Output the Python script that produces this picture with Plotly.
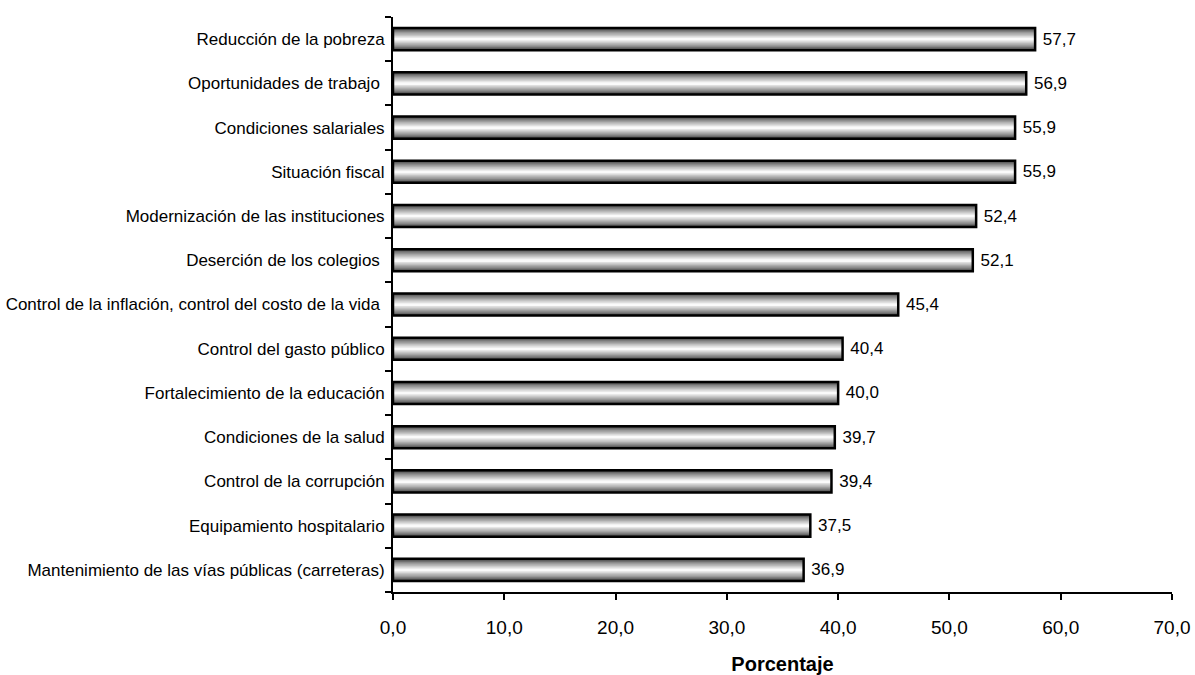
import plotly.graph_objects as go

categories = [
    "Reducción de la pobreza",
    "Oportunidades de trabajo ",
    "Condiciones salariales",
    "Situación fiscal",
    "Modernización de las instituciones",
    "Deserción de los colegios ",
    "Control de la inflación, control del costo de la vida ",
    "Control del gasto público",
    "Fortalecimiento de la educación",
    "Condiciones de la salud",
    "Control de la corrupción",
    "Equipamiento hospitalario",
    "Mantenimiento de las vías públicas (carreteras)",
]
values = [57.7, 56.9, 55.9, 55.9, 52.4, 52.1, 45.4, 40.4, 40.0, 39.7, 39.4, 37.5, 36.9]
x_ticks = [0, 10, 20, 30, 40, 50, 60, 70]

font = "Liberation Sans, Arial, sans-serif"

fig = go.Figure()

bar_width = 0.5
n_layers = 14
for i in range(n_layers):
    frac = i / (n_layers - 1)
    g = int(60 + (250 - 60) * (frac ** 0.8))
    fig.add_trace(go.Bar(
        y=categories, x=values, orientation="h",
        width=bar_width * (1 - i / n_layers),
        marker=dict(color=f"rgb({g},{g},{g})", line=dict(width=0)),
        hoverinfo="skip", showlegend=False,
    ))

fig.add_trace(go.Bar(
    y=categories, x=values, orientation="h", width=bar_width,
    marker=dict(color="rgba(0,0,0,0)", line=dict(color="black", width=2.5)),
    text=[" " + f"{v:.1f}".replace(".", ",") for v in values],
    textposition="outside", cliponaxis=False,
    textfont=dict(family=font, size=17, color="black"),
    hoverinfo="skip", showlegend=False,
))

fig.update_layout(
    barmode="overlay",
    width=1195, height=675,
    margin=dict(l=393, r=23, t=17, b=83, autoexpand=False),
    paper_bgcolor="white", plot_bgcolor="white",
    separators=",.",
    showlegend=False,
    xaxis=dict(
        range=[0, 70], tickvals=x_ticks, tickformat=".1f",
        showgrid=False, zeroline=False, automargin=False,
        showline=True, linecolor="black", linewidth=2,
        ticks="outside", ticklen=6, tickwidth=2, tickcolor="black",
        ticklabelstandoff=11,
        tickfont=dict(family=font, size=19, color="black"),
        title=dict(text="<b>Porcentaje</b>", font=dict(family=font, size=20, color="black"), standoff=20),
    ),
    yaxis=dict(
        categoryorder="array", categoryarray=categories[::-1],
        range=[-0.5, 12.5],
        showgrid=False, zeroline=False, automargin=False,
        showline=True, linecolor="black", linewidth=2,
        ticks="outside", ticklen=6, tickwidth=2, tickcolor="black",
        tickson="boundaries", ticklabelstandoff=3,
        tickfont=dict(family=font, size=17, color="black"),
    ),
)

fig.write_html("out.html", config={"displayModeBar": False},
               post_script="document.body.style.margin='0';")
